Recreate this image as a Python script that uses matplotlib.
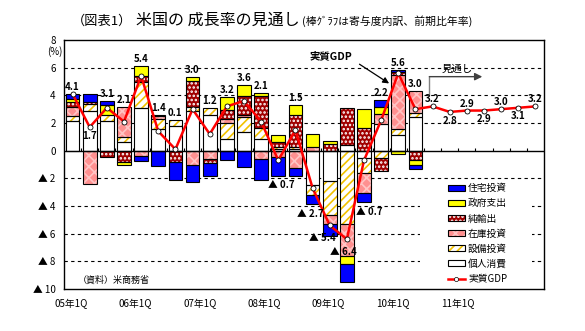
import numpy as np
import matplotlib
matplotlib.use("Agg")
import matplotlib.pyplot as plt
from matplotlib.patches import Patch, Rectangle
from matplotlib.lines import Line2D
import matplotlib.transforms as mtransforms

plt.rcParams['font.family'] = ['Noto Sans CJK JP', 'DejaVu Sans']
plt.rcParams['hatch.linewidth'] = 1.2

# quarters 05年1Q .. 11年4Q
years = ["05", "06", "07", "08", "09", "10", "11"]
quarters = [y + "年" + str(q) + "Q" for y in years for q in range(1, 5)]

# 実質GDP (前期比年率, %), 10年2Q以降は見通し
gdp = [4.1, 1.7, 3.1, 2.1,
       5.4, 1.4, 0.1, 3.0,
       1.2, 3.2, 3.6, 2.1,
       -0.7, 1.5, -2.7, -5.4,
       -6.4, -0.7, 2.2, 5.6,
       3.0, 3.2, 2.8, 2.9,
       2.9, 3.0, 3.1, 3.2]

# 寄与度 (05年1Q .. 10年1Q)
consumption = [2.15, 2.85, 2.15, 0.65, 3.1, 1.57, 1.75, 2.9, 2.58, 0.82, 1.33,
               0.82, 0.1, 0.15, -2.48, -2.19, 0.41, -0.55, 1.93, 1.1, 2.45]
equipment = [0.32, 0.55, 0.45, 0.32, 1.85, 0.7, 0.45, 0.25, 0.5, 1.2, 1.08,
             0.8, 0.15, 0.12, -0.72, -2.46, -5.32, -1.09, -0.55, 0.5, 0.25]
inventory = [0.7, -2.4, 0.0, 2.2, -0.4, 0.2, 0.0, -1.05, -0.6, 0.29, 0.17,
             -0.62, -0.45, -1.27, 0.24, -0.67, -2.28, -1.44, 0.72, 3.9, 1.64]
net_exports = [0.38, 0.12, -0.45, -0.8, 0.45, 0.12, -0.85, 1.9, -0.32, 0.66, 1.4,
               2.3, 0.35, 2.3, 0.0, 0.46, 2.65, 1.61, -0.9, 0.2, -0.67]
government = [0.15, 0.0, 0.68, -0.25, 0.7, 0.0, 0.0, 0.3, 0.0, 0.9, 0.8,
              0.28, 0.5, 0.73, 0.96, 0.24, -0.59, 1.38, 0.53, -0.25, -0.36]
housing = [0.38, 0.58, 0.3, 0.0, -0.35, -1.1, -1.25, -1.25, -0.91, -0.67, -1.2,
           -1.5, -1.35, -0.55, -0.67, -0.82, -1.31, -0.65, 0.48, 0.15, -0.32]

names = ["個人消費", "設備投資", "在庫投資", "純輸出", "政府支出", "住宅投資"]
series = [consumption, equipment, inventory, net_exports, government, housing]
# facecolor, hatch colour, hatch
styles = [("white", "white", None),
          ("white", "#F2C200", "////"),
          ("#FF9090", "#FFC4C4", "xxx"),
          ("#A00000", "white", "...."),
          ("#FFFF00", "#FFFF00", None),
          ("#0000FF", "#0000FF", None)]

fig = plt.figure(figsize=(5.85, 3.31), dpi=100)
ax = fig.add_axes([64 / 585, 1 - 289 / 331, 480 / 585, 249 / 331])

x = np.arange(len(gdp))
nb = len(consumption)
xb = x[:nb]
w = 0.8
pos_base = np.zeros(nb)
neg_base = np.zeros(nb)
for vals, (fc, hc, hatch) in zip(series, styles):
    v = np.array(vals)
    pos = np.where(v > 0, v, 0.0)
    neg = np.where(v < 0, v, 0.0)
    for part, base in ((pos, pos_base), (neg, neg_base)):
        m = part != 0
        ax.bar(xb[m], part[m], w, bottom=base[m], color=fc, edgecolor=hc,
               hatch=hatch, linewidth=0, zorder=2)
        ax.bar(xb[m], part[m], w, bottom=base[m], fill=False,
               edgecolor="black", linewidth=0.8, zorder=2.1)
    pos_base = pos_base + pos
    neg_base = neg_base + neg

# grid, zero line, quarter ticks
for yv in [6, 4, 2, -2, -4, -6, -8]:
    ax.axhline(yv, color="black", lw=0.8, ls=(0, (3, 3)), zorder=0.5)
ax.axhline(0, color="black", lw=1.0, zorder=3)
ax.vlines(np.arange(0.5, len(gdp) - 1, 1), 0, 0.17, color="black", lw=0.8, zorder=3)

# white area behind legend
ax.add_patch(Rectangle(((420 - 64) / 480, 0.004), 112 / 480, 0.42,
                       transform=ax.transAxes, facecolor="white",
                       edgecolor="none", zorder=1))

ax.plot(x, gdp, color="#FF0000", lw=1.8, marker="o", ms=3.6, mfc="white",
        mec="black", mew=0.6, zorder=4)

# value labels
def fmt(v):
    return f"{v:.1f}" if v >= 0 else "▲ " + f"{abs(v):.1f}"

special = {15: (-0.45, -6.32), 16: (-0.2, -7.3)}
for i, v in enumerate(gdp):
    xi = i
    if i in special:
        xi += special[i][0]
        yi = special[i][1]
    elif i < nb and v < 0:
        shift = {12: 0.2, 14: -0.15, 17: 0.3}.get(i, 0)
        xi += shift
        yi = neg_base[i] - 0.7
    elif i == 1 or (i > nb and (i - nb) % 2 == 1):
        yi = v - 0.62
    else:
        top = pos_base[i] if i < nb else v
        yi = max(top, v) + 0.5
    ax.text(xi, yi, fmt(v), ha="center", va="center", fontsize=7,
            fontweight="bold", zorder=5)

# annotations
ax.text(15.08, 6.85, "実質GDP", ha="center", va="center", fontsize=7.5,
        fontweight="bold")
ax.annotate("", xy=(18.6, 4.75), xytext=(16.6, 6.36),
            arrowprops=dict(arrowstyle="-|>", color="black", lw=0.9,
                            mutation_scale=9))
ax.plot([20.81, 20.81], [4.03, 5.35], color="#808080", lw=1.0)
ax.annotate("", xy=(23.9, 5.35), xytext=(20.81, 5.35),
            arrowprops=dict(arrowstyle="-|>", color="#808080", lw=1.0,
                            mutation_scale=11, fc="#404040", ec="#404040",
                            shrinkA=0, shrinkB=0))
ax.text(22.45, 5.9, "見通し", ha="center", va="center", fontsize=7.5)
ax.text(0.32, -9.35, "（資料）米商務省", ha="left", va="center", fontsize=6.5)

# axes
ax.set_xlim(-0.5, len(gdp) - 0.5)
ax.set_ylim(-10, 8)
yt = list(range(-10, 9, 2))
ax.set_yticks(yt)
ax.set_yticklabels([str(t) if t >= 0 else "▲ " + str(-t) for t in yt], fontsize=7)
tick_pos = np.arange(7) * 3.76 - 0.1
ax.set_xticks(tick_pos)
ax.set_xticklabels([q for q in quarters if q.endswith("1Q")], fontsize=7)
ax.tick_params(axis="both", length=0)
ax.tick_params(axis="y", pad=6)
ax.tick_params(axis="x", pad=7)
for s in ax.spines.values():
    s.set_linewidth(1.0)
trans = mtransforms.blended_transform_factory(ax.transAxes, ax.transData)
ax.text(-0.004, 7.2, "(%)", transform=trans, ha="right", va="center", fontsize=7)

# legend
handles = []
for (fc, hc, hatch) in reversed(styles):
    handles.append((Patch(facecolor=fc, edgecolor=hc, hatch=hatch, linewidth=0),
                    Patch(fill=False, edgecolor="black", linewidth=0.8)))
handles.append(Line2D([], [], color="#FF0000", lw=1.8, marker="o", ms=3,
                      mfc="white", mec="black", mew=0.5))
labels = list(reversed(names)) + ["実質GDP"]
ax.legend(handles, labels, loc="lower left", bbox_to_anchor=(0.785, -0.006),
          frameon=False, fontsize=7, handlelength=1.75, handleheight=0.55,
          handletextpad=0.35, labelspacing=0.52, borderpad=0.2)

# title
base_y = 1 - 25 / 331
t0 = fig.text(72 / 585, base_y, "（図表1）", fontsize=9.5, va="baseline", ha="left")
t1 = fig.text(136 / 585, base_y, "米国の 成長率の見通し", fontsize=11.5,
              va="baseline", ha="left")
fig.canvas.draw()
bb = t1.get_window_extent()
fig.text((bb.x1 + 2) / fig.bbox.width, base_y,
         "(棒ｸﾞﾗﾌは寄与度内訳、前期比年率)", fontsize=7.8, va="baseline", ha="left")

fig.savefig("out.png", dpi=100)
